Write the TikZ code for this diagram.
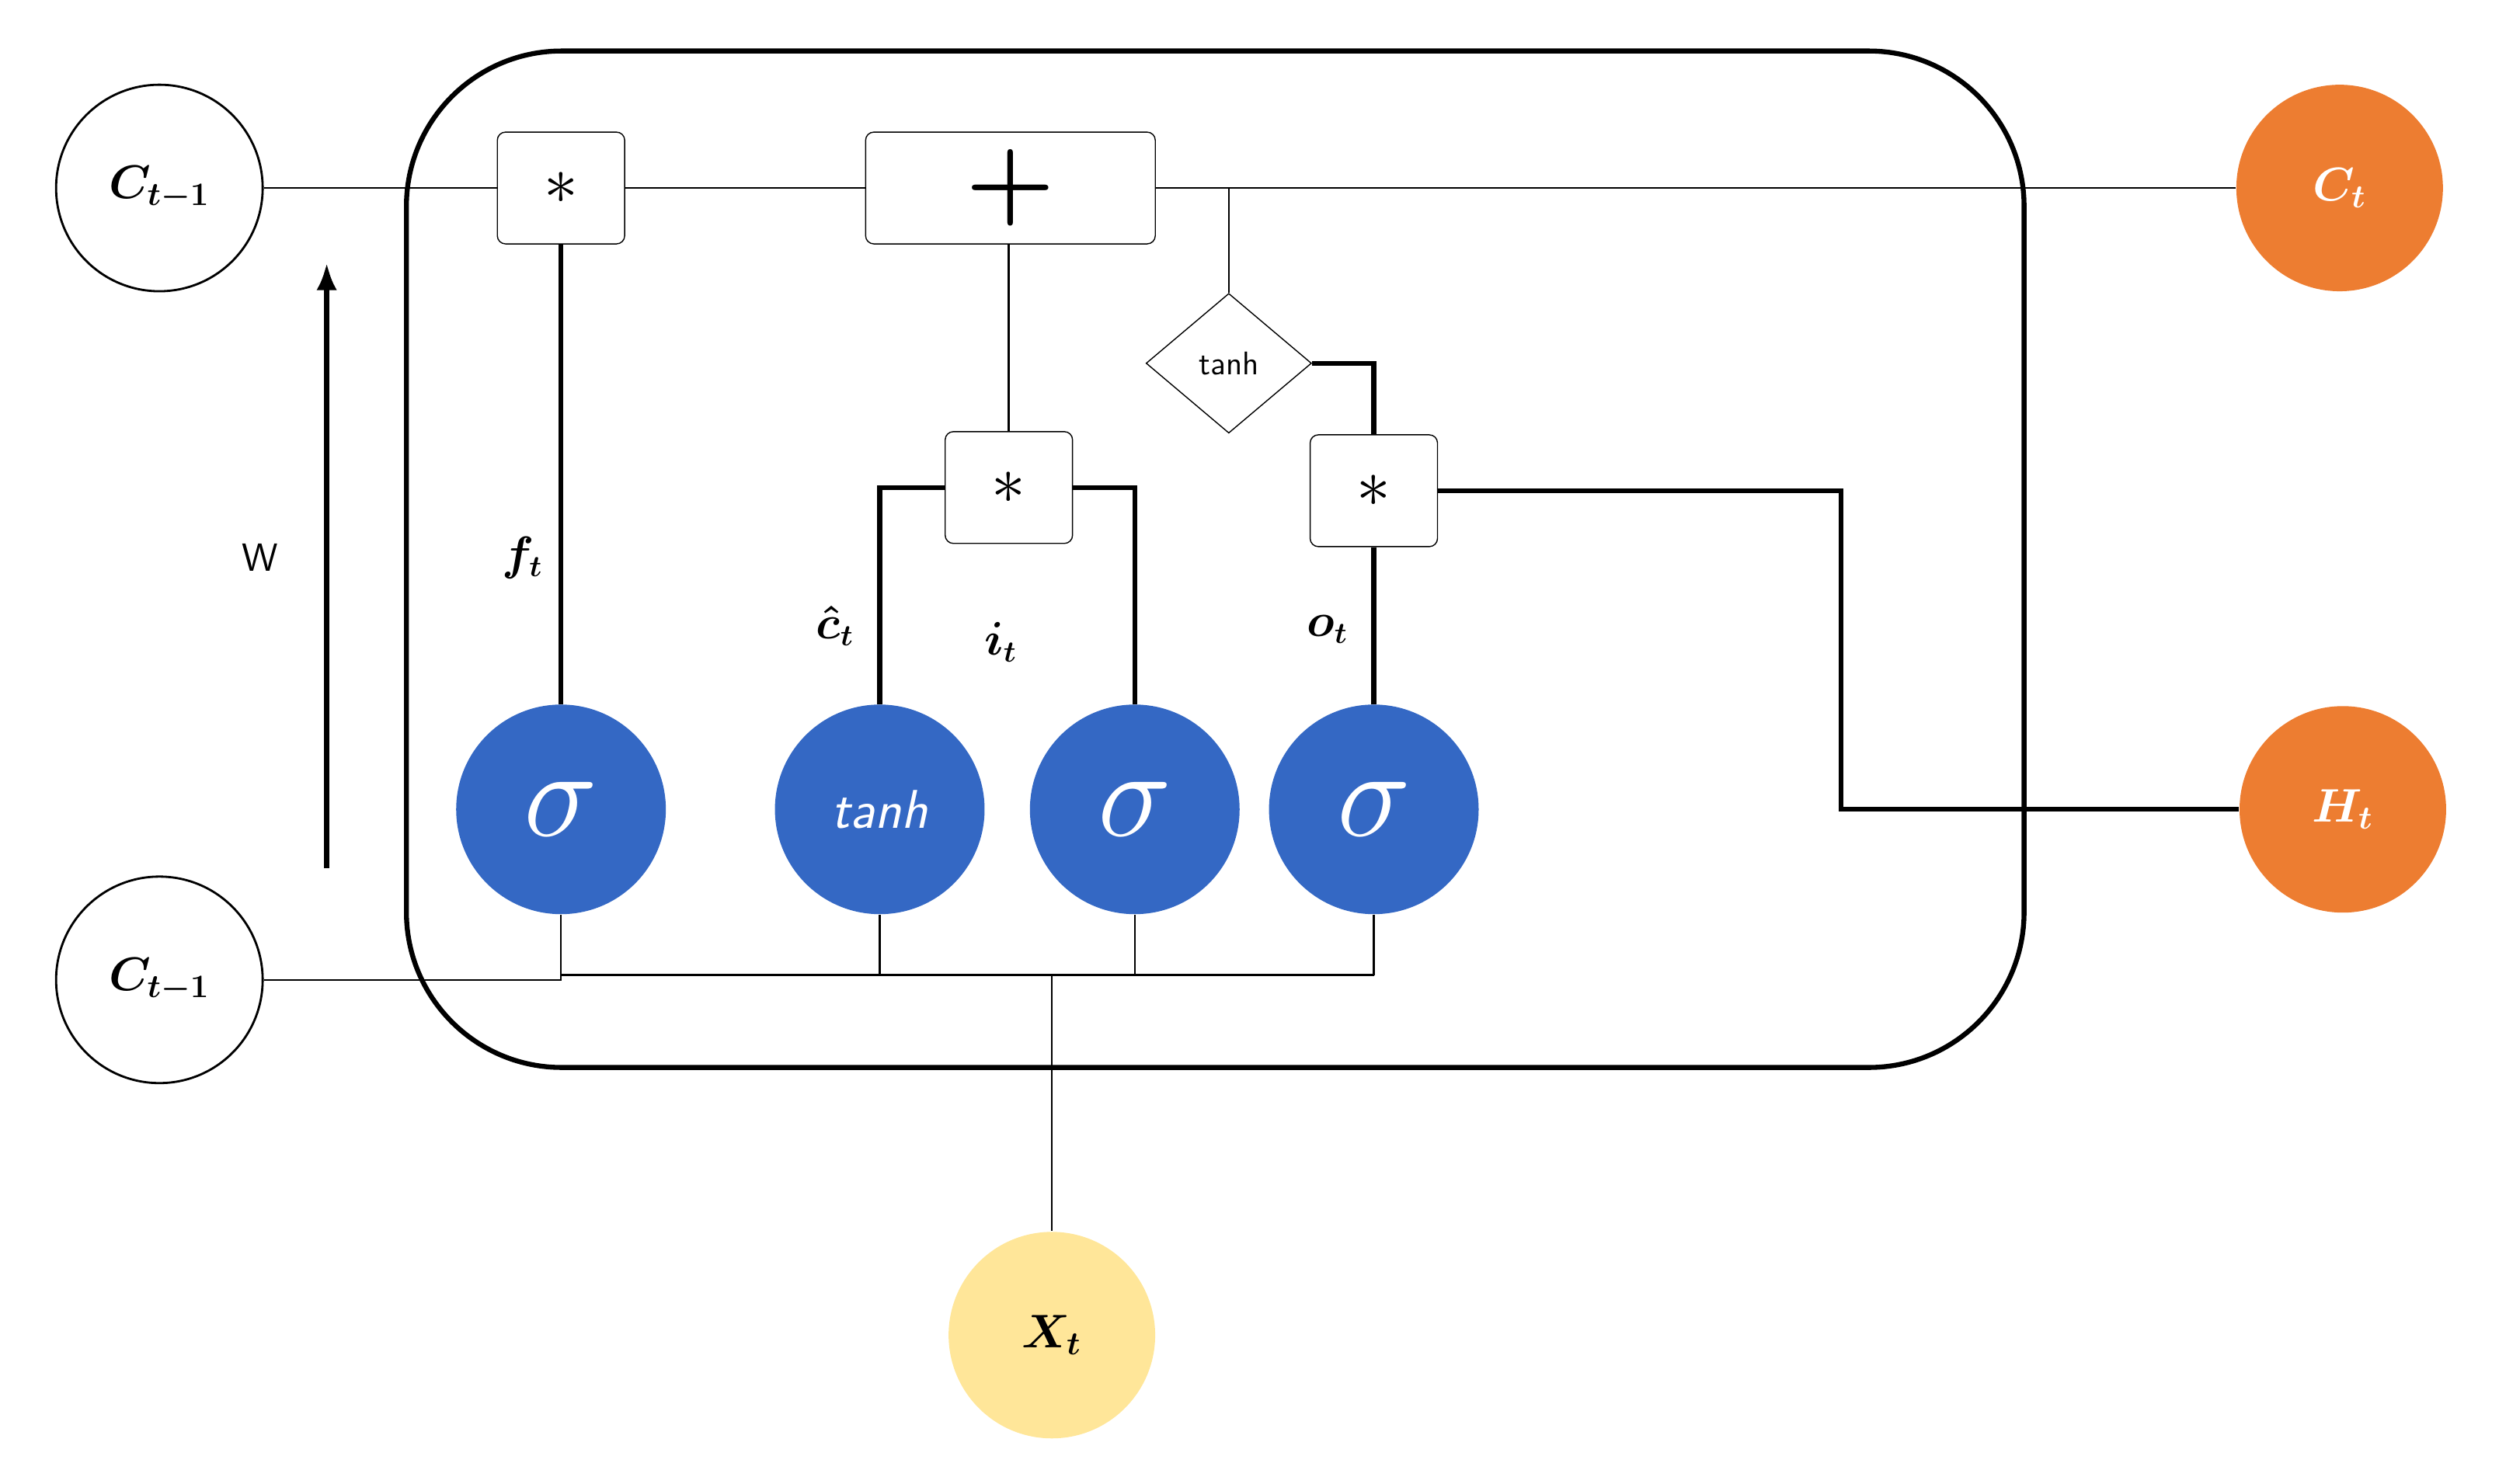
\documentclass[tikz,border=0pt]{standalone}
\usepackage{amsmath,bm,graphicx}
\usetikzlibrary{shapes.geometric,arrows.meta}
\definecolor{gateblue}{RGB}{52,104,196}
\definecolor{outorange}{RGB}{237,125,49}
\definecolor{inyellow}{RGB}{255,230,153}
\newcommand{\bigsig}{\scalebox{2.2}{$\sigma$}}
\begin{document}
\begin{tikzpicture}[
    x=0.02052cm, y=-0.02052cm,
    state/.style={circle, draw, thick, minimum size=2.66cm, inner sep=0pt, font=\fontsize{18}{20}\selectfont},
    output/.style={circle, fill=outorange, minimum size=2.66cm, inner sep=0pt, text=white, font=\fontsize{18}{20}\selectfont},
    gate/.style={circle, fill=gateblue, minimum size=2.7cm, inner sep=0pt, text=white, font=\fontsize{20}{22}\selectfont},
    op/.style={rectangle, draw, rounded corners=3pt, minimum width=1.64cm, minimum height=1.44cm, font=\fontsize{26}{28}\selectfont},
    lbl/.style={font=\fontsize{16}{18}\selectfont},
    thin line/.style={line width=0.7pt},
    thick line/.style={line width=1.8pt}
]
    \useasboundingbox (0,0) rectangle (1568,931);

    % Cell body
    \draw [line width=1.8pt, rounded corners=2cm] (255,32) rectangle (1270,670);

    % Inputs and outputs
    \node [state] (cprev) at (100,118) {$\bm{C_{t-1}}$};
    \node [state] (hprev) at (100,615) {$\bm{C_{t-1}}$};
    \node [output] (cnext) at (1468,118) {$\bm{C_t}$};
    \node [output] (hnext) at (1470,508) {$\bm{H_t}$};
    \node [state, draw=none, fill=inyellow] (xin) at (660,838) {$\bm{X_t}$};

    % Operators
    \node [op] (mulf) at (352,118) {$\ast$};
    \node [op, minimum width=3.73cm] (add) at (634,118) {\scalebox{1.5}{$\bm{+}$}};
    \node [op] (muli) at (633,306) {$\ast$};
    \node [op] (mulo) at (862,308) {$\ast$};
    \node [diamond, draw, aspect=1.2, minimum width=2.13cm, minimum height=1.8cm, inner sep=0pt, font=\sffamily\large] (squash) at (771,228) {tanh};

    % Gates
    \node [gate] (fgate) at (352,508) {\bigsig};
    \node [gate] (cgate) at (552,508) {\textit{\sffamily tanh}};
    \node [gate] (igate) at (712,508) {\bigsig};
    \node [gate] (ogate) at (862,508) {\bigsig};

    % Labels
    \node [lbl] (flbl) at (328,350) {$\bm{f_t}$};
    \node [lbl] (clbl) at (524,393) {$\bm{\hat{c}_t}$};
    \node [lbl] (ilbl) at (628,403) {$\bm{i_t}$};
    \node [lbl] (olbl) at (833,395) {$\bm{o_t}$};
    \node [font=\sffamily\Large] (wlbl) at (163,350) {W};

    % Cell state path
    \coordinate (split) at (771,118);
    \draw [thin line] (cprev) -- (mulf) -- (add) -- (split) -- (cnext);
    \draw [thin line] (split) -- (squash.north);
    \draw [thin line] (add.south -| muli.north) -- (muli.north);

    % Gate connections
    \draw [thick line] (mulf) -- (fgate);
    \draw [thick line] (muli.west) -| (cgate.north);
    \draw [thick line] (muli.east) -| (igate.north);
    \draw [thick line] (mulo) -- (ogate);
    \draw [thick line] (squash.east) -| (mulo.north);
    \draw [thick line] (mulo.east) -- (1155,308) -- (1155,508) -- (hnext);

    % Input bus
    \draw [thin line] (hprev) -- (352,615) -- (fgate.south);
    \draw [thin line] (352,612) -- (862,612);
    \draw [thin line] (cgate.south) -- (552,612);
    \draw [thin line] (igate.south) -- (712,612);
    \draw [thin line] (ogate.south) -- (862,612);
    \draw [thin line] (xin) -- (660,612);

    % Recurrence arrow
    \coordinate (wbot) at (205,545);
    \coordinate (wtop) at (205,165);
    \draw [line width=1.8pt, -{Latex[length=10pt]}] (wbot) -- (wtop);
\end{tikzpicture}
\end{document}
